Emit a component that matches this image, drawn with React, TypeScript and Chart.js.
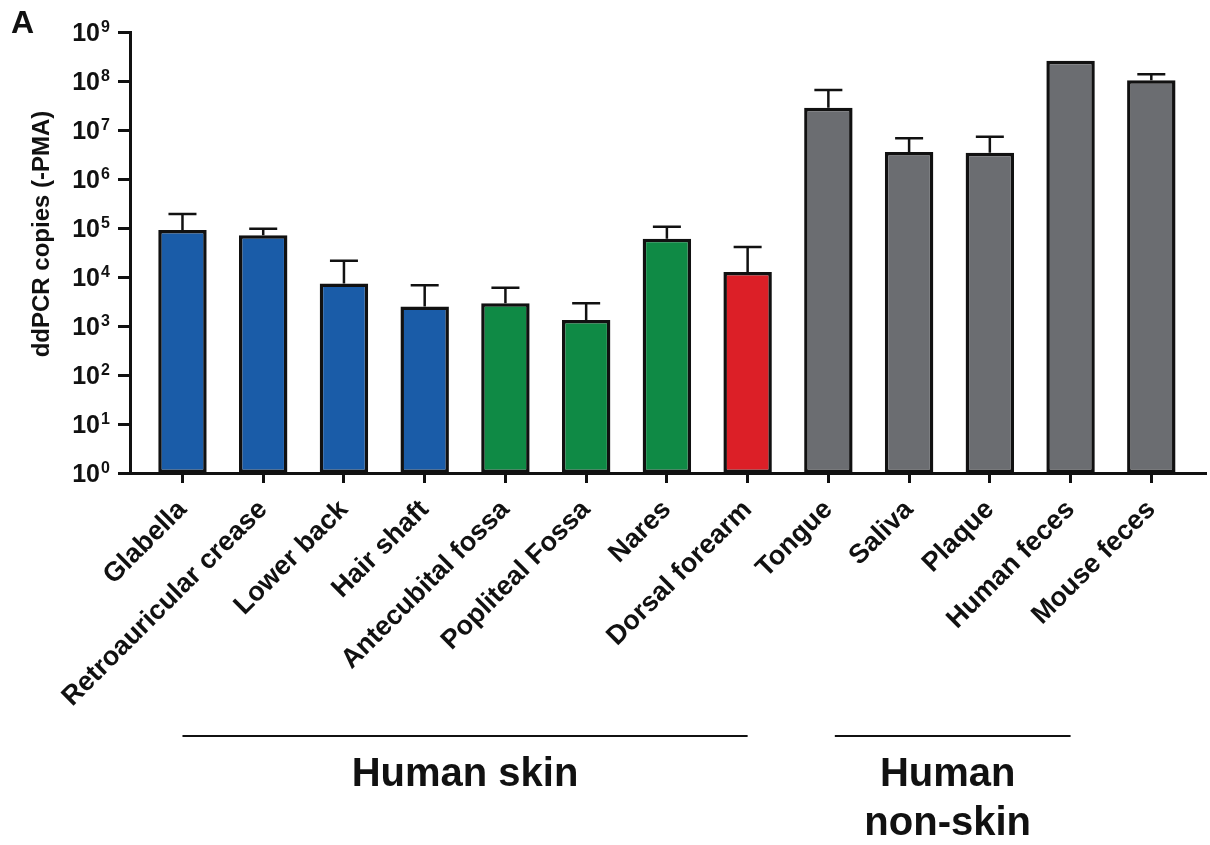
import React, { useEffect, useRef } from "react";
import { Chart, registerables } from "chart.js";

Chart.register(...registerables);

const categories = [
  "Glabella",
  "Retroauricular crease",
  "Lower back",
  "Hair shaft",
  "Antecubital fossa",
  "Popliteal Fossa",
  "Nares",
  "Dorsal forearm",
  "Tongue",
  "Saliva",
  "Plaque",
  "Human feces",
  "Mouse feces",
];

const meanCopies = [9.1e4, 7.1e4, 7.4e3, 2.5e3, 2.9e3, 1.33e3, 6.0e4, 1.27e4, 2.85e7, 3.56e6, 3.44e6, 2.6e8, 1.03e8];
const errorUpper = [1.93e5, 9.7e4, 2.15e4, 6.8e3, 6.0e3, 2.9e3, 1.06e5, 4.1e4, 6.55e7, 6.8e6, 7.3e6, null, 1.37e8];

const BLUE = "#1a5ca8";
const GREEN = "#0f8a45";
const RED = "#dc1f27";
const GRAY = "#6b6d71";
const barColors = [BLUE, BLUE, BLUE, BLUE, GREEN, GREEN, GREEN, RED, GRAY, GRAY, GRAY, GRAY, GRAY];

const yTickValues = [1e0, 1e1, 1e2, 1e3, 1e4, 1e5, 1e6, 1e7, 1e8, 1e9];
const yTickExponents = ["0", "1", "2", "3", "4", "5", "6", "7", "8", "9"];
const yAxisTitle = "ddPCR copies (-PMA)";
const panelLabel = "A";

const groupLabels = [["Human skin"], ["Human", "non-skin"]];
const groupFrom = [0, 8.08];
const groupTo = [7, 11];

const FONT = "'Liberation Sans', Arial, Helvetica, sans-serif";
const INK = "#111111";

const annotationsPlugin = {
  id: "annotations",
  afterDatasetsDraw(chart: any) {
    const ctx = chart.ctx;
    const ys = chart.scales.y;
    ctx.save();
    ctx.strokeStyle = INK;
    ctx.lineWidth = 2.5;
    const meta = chart.getDatasetMeta(0);
    meta.data.forEach((bar: any, i: number) => {
      const e = errorUpper[i];
      if (e == null) return;
      const x = bar.x;
      const yTop = ys.getPixelForValue(e);
      const yBar = ys.getPixelForValue(meanCopies[i]);
      ctx.beginPath();
      ctx.moveTo(x, yBar);
      ctx.lineTo(x, yTop);
      ctx.moveTo(x - 14, yTop);
      ctx.lineTo(x + 14, yTop);
      ctx.stroke();
    });
    ctx.restore();
  },
  afterDraw(chart: any) {
    const ctx = chart.ctx;
    const xs = chart.scales.x;
    const ys = chart.scales.y;
    ctx.save();
    ctx.fillStyle = INK;
    yTickValues.forEach((v, i) => {
      const y = ys.getPixelForValue(v);
      ctx.font = `bold 25px ${FONT}`;
      ctx.textAlign = "right";
      ctx.textBaseline = "alphabetic";
      ctx.fillText("10", 100, y + 9);
      ctx.font = `bold 16px ${FONT}`;
      ctx.textAlign = "left";
      ctx.fillText(yTickExponents[i], 101, y);
    });
    ctx.save();
    ctx.translate(42, 234);
    ctx.rotate(-Math.PI / 2);
    ctx.font = `bold 24px ${FONT}`;
    ctx.textAlign = "center";
    ctx.textBaseline = "middle";
    ctx.fillText(yAxisTitle, 0, 0);
    ctx.restore();
    ctx.font = `bold 32px ${FONT}`;
    ctx.textAlign = "left";
    ctx.textBaseline = "alphabetic";
    ctx.fillText(panelLabel, 11, 33);
    ctx.strokeStyle = INK;
    ctx.lineWidth = 2;
    groupLabels.forEach((lines, g) => {
      const x1 = xs.getPixelForValue(groupFrom[g]);
      const x2 = xs.getPixelForValue(groupTo[g]);
      ctx.beginPath();
      ctx.moveTo(x1, 736);
      ctx.lineTo(x2, 736);
      ctx.stroke();
      const cx = (x1 + x2) / 2 - (lines.length > 1 ? 5 : 0);
      ctx.font = `bold 40px ${FONT}`;
      ctx.textAlign = "center";
      lines.forEach((t, k) => {
        ctx.fillText(t, cx, 786 + k * 49);
      });
    });
    ctx.restore();
  },
};

export default function App() {
  const ref = useRef<HTMLCanvasElement | null>(null);
  useEffect(() => {
    if (!ref.current) return;
    const chart = new Chart(ref.current, {
      type: "bar",
      data: {
        datasets: [
          {
            data: meanCopies.map((v, i) => ({ x: i, y: v })),
            backgroundColor: barColors,
            borderColor: INK,
            borderWidth: 3.5,
            borderSkipped: false,
            barPercentage: 0.6,
            categoryPercentage: 1,
          },
        ],
      },
      options: {
        responsive: false,
        animation: false,
        devicePixelRatio: 1,
        layout: { padding: { left: 0, top: 32, right: 5, bottom: 0 } },
        plugins: { legend: { display: false }, tooltip: { enabled: false } },
        scales: {
          x: {
            type: "linear",
            offset: false,
            min: -0.65,
            max: 12.665,
            afterBuildTicks: (scale: any) => {
              scale.ticks = categories.map((_, i) => ({ value: i }));
            },
            afterFit: (scale: any) => {
              scale.height = 372;
            },
            grid: {
              offset: false,
              drawOnChartArea: false,
              drawTicks: true,
              tickLength: 10,
              lineWidth: 3,
              color: INK,
            },
            border: { display: true, color: INK, width: 3 },
            ticks: {
              autoSkip: false,
              maxRotation: 45,
              minRotation: 45,
              padding: 11,
              color: INK,
              font: { family: FONT, weight: "bold", size: 27 },
              callback: (v: any) => categories[Math.round(v)],
            },
          },
          y: {
            type: "logarithmic",
            min: 1,
            max: 1e9,
            afterBuildTicks: (scale: any) => {
              scale.ticks = yTickValues.map((v) => ({ value: v }));
            },
            afterFit: (scale: any) => {
              scale.width = 130;
            },
            grid: {
              drawOnChartArea: false,
              drawTicks: true,
              tickLength: 12,
              lineWidth: 3,
              color: INK,
            },
            border: { display: true, color: INK, width: 3 },
            ticks: { display: false },
          },
        },
      },
      plugins: [annotationsPlugin],
    } as any);
    return () => chart.destroy();
  }, []);
  return (
    <div style={{ position: "absolute", left: 0, top: 0, width: 1210, height: 845, background: "#fff" }}>
      <canvas ref={ref} width={1210} height={845} />
    </div>
  );
}
